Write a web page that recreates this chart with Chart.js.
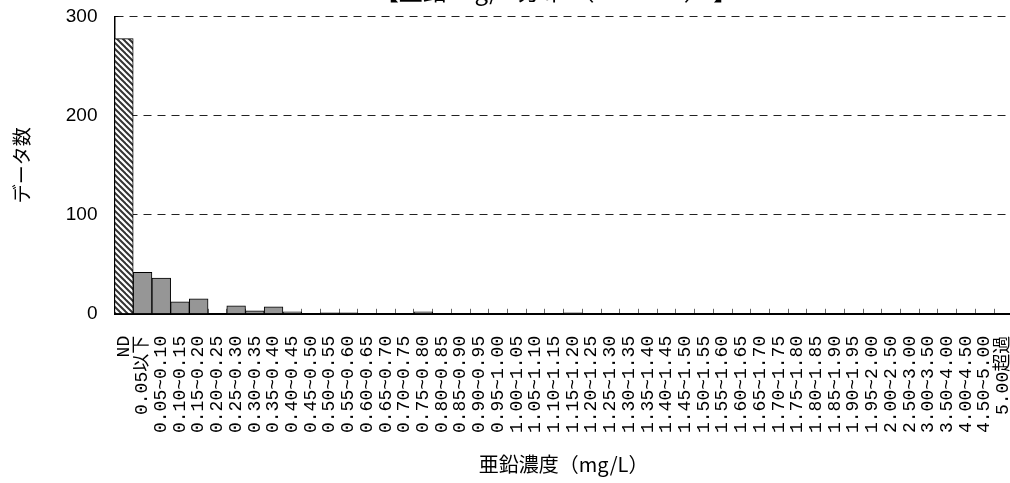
<!DOCTYPE html>
<html lang="ja">
<head>
<meta charset="utf-8">
<script src="https://cdn.jsdelivr.net/npm/chart.js@4.4.0/dist/chart.umd.min.js"></script>
<style>
  html, body { margin: 0; padding: 0; background: #fff; overflow: hidden; }
  #wrap { position: relative; width: 1010px; height: 483px; overflow: hidden; }
  #chart { position: absolute; left: 0; top: -24px; }
</style>
</head>
<body>
<div id="wrap"><canvas id="chart" width="1052" height="507"></canvas></div>
<script>
// concentration classes (x axis)
const categories = [
  "ND", "0.05以下",
  "0.05~0.10", "0.10~0.15", "0.15~0.20", "0.20~0.25", "0.25~0.30",
  "0.30~0.35", "0.35~0.40", "0.40~0.45", "0.45~0.50", "0.50~0.55",
  "0.55~0.60", "0.60~0.65", "0.65~0.70", "0.70~0.75", "0.75~0.80",
  "0.80~0.85", "0.85~0.90", "0.90~0.95", "0.95~1.00", "1.00~1.05",
  "1.05~1.10", "1.10~1.15", "1.15~1.20", "1.20~1.25", "1.25~1.30",
  "1.30~1.35", "1.35~1.40", "1.40~1.45", "1.45~1.50", "1.50~1.55",
  "1.55~1.60", "1.60~1.65", "1.65~1.70", "1.70~1.75", "1.75~1.80",
  "1.80~1.85", "1.85~1.90", "1.90~1.95", "1.95~2.00",
  "2.00~2.50", "2.50~3.00", "3.00~3.50", "3.50~4.00", "4.00~4.50",
  "4.50~5.00", "5.00超過"
];

// number of data in each class
const counts = [
  278, 42,
  36, 12, 15, 0, 8,
  3, 7, 2, 0, 1,
  1, 0, 0, 0, 2,
  0, 0, 0, 0, 0,
  0, 0, 1, 0, 0,
  0, 0, 0, 0, 0,
  0, 0, 0, 0, 0,
  0, 0, 0, 0,
  0, 0, 0, 0, 0,
  0, 0
];

const yTicks = [0, 100, 200, 300];

// title is mostly cut off at the top edge in the original
const chartTitle = "　　　【亜鉛 mg/L 分布 （ n = 408 ） 】";
const xTitle = "亜鉛濃度（mg/L）";
const yTitle = "データ数";

// hatched fill for the ND bar
function makeHatch() {
  const s = 6;
  const tile = document.createElement("canvas");
  tile.width = s;
  tile.height = s;
  const c = tile.getContext("2d");
  c.fillStyle = "#fff";
  c.fillRect(0, 0, s, s);
  c.strokeStyle = "#333";
  c.lineWidth = 2;
  for (let k = -1; k <= 1; k++) {
    c.beginPath();
    c.moveTo(-1, -1 + k * s);
    c.lineTo(s + 1, s + 1 + k * s);
    c.stroke();
  }
  return c.createPattern(tile, "repeat");
}

const hatch = makeHatch();
const barColors = counts.map((v, i) => (i === 0 ? hatch : "#969696"));

const ctx = document.getElementById("chart").getContext("2d");

new Chart(ctx, {
  type: "bar",
  data: {
    labels: categories,
    datasets: [
      {
        data: counts,
        backgroundColor: barColors,
        borderColor: "#000",
        borderWidth: 1,
        barPercentage: 1,
        categoryPercentage: 1,
      },
    ],
  },
  options: {
    responsive: false,
    animation: false,
    devicePixelRatio: 1,
    layout: { padding: 0 },
    plugins: {
      legend: { display: false },
      tooltip: { enabled: false },
      title: {
        display: true,
        text: chartTitle,
        color: "#000",
        font: { family: "'Noto Sans CJK JP'", size: 24, weight: "normal" },
        padding: { top: 0, bottom: 12 },
      },
    },
    scales: {
      x: {
        grid: {
          drawOnChartArea: false,
          drawTicks: true,
          tickLength: -5,
          tickColor: "#666",
          tickWidth: 1,
          tickBorderDash: [],
          offset: true,
        },
        border: { color: "#000", width: 2 },
        ticks: {
          autoSkip: false,
          maxRotation: 90,
          minRotation: 90,
          padding: 27,
          color: "#000",
          font: { family: "'Liberation Mono', 'Noto Sans CJK JP'", size: 18 },
        },
        title: {
          display: true,
          text: xTitle,
          color: "#000",
          font: { family: "'Noto Sans CJK JP'", size: 20 },
          padding: { top: -8, bottom: 7 },
        },
      },
      y: {
        min: 0,
        max: 300,
        afterBuildTicks(scale) {
          scale.ticks = yTicks.map((v) => ({ value: v }));
        },
        grid: {
          color: (c) => (c.tick && c.tick.value === 0 ? "rgba(0,0,0,0)" : "#222"),
          lineWidth: 1,
          drawTicks: true,
          tickLength: -4,
          tickColor: "#000",
          tickBorderDash: [],
        },
        border: { color: "#000", width: 1.5, dash: [8, 6] },
        ticks: {
          padding: 21,
          color: "#000",
          font: { family: "'Liberation Sans', Arial", size: 19 },
        },
        title: {
          display: true,
          text: yTitle,
          color: "#000",
          font: { family: "'Noto Sans CJK JP'", size: 19 },
          padding: { top: 10, bottom: 12 },
        },
      },
    },
  },
});
</script>
</body>
</html>
